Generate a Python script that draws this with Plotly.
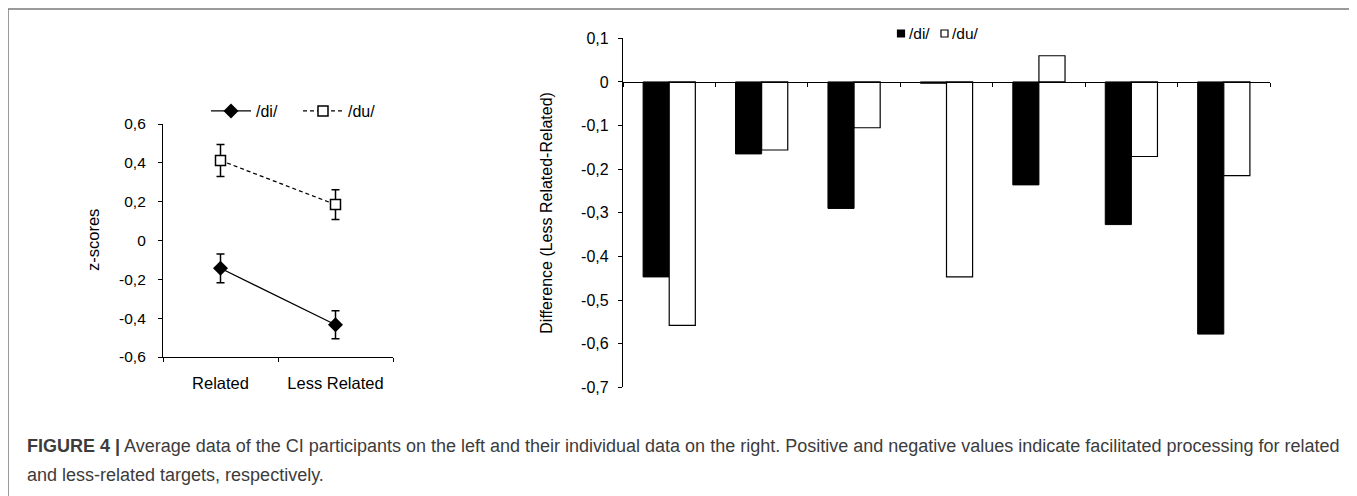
import plotly.graph_objects as go

# ---------------- data ----------------
conditions = ["Related", "Less Related"]
di_means = [-0.143, -0.434]
di_err = [0.074, 0.072]
du_means = [0.412, 0.185]
du_err = [0.082, 0.077]
left_ticks = [-0.6, -0.4, -0.2, 0, 0.2, 0.4, 0.6]
left_ticktext = ["-0,6", "-0,4", "-0,2", "0", "0,2", "0,4", "0,6"]

participants = ["P1", "P2", "P3", "P4", "P5", "P6", "P7"]
di_diff = [-0.447, -0.165, -0.290, -0.003, -0.236, -0.327, -0.578]
du_diff = [-0.558, -0.156, -0.105, -0.447, 0.060, -0.171, -0.215]
right_ticks = [-0.7, -0.6, -0.5, -0.4, -0.3, -0.2, -0.1, 0, 0.1]
right_ticktext = ["-0,7", "-0,6", "-0,5", "-0,4", "-0,3", "-0,2", "-0,1", "0", "0,1"]

caption_bold = "FIGURE 4 |"
caption_l1 = (" Average data of the CI participants on the left and their individual data on the right. "
              "Positive and negative values indicate facilitated processing for related")
caption_l2 = "and less-related targets, respectively."

W, H = 1357, 496
OFF = 8  # page body margin offset
FONT = "Liberation Sans, Arial, sans-serif"

def px_x(p):
    return (p - OFF) / W

def px_y(p):
    return 1 - (p - OFF) / H

fig = go.Figure()

# ---------------- left panel ----------------
fig.add_trace(go.Scatter(
    x=conditions, y=di_means, name="/di/", mode="lines+markers",
    line=dict(color="black", width=1.3),
    marker=dict(symbol="diamond", size=11.5, color="black"),
    error_y=dict(type="data", array=di_err, color="black", thickness=1.5, width=4),
    xaxis="x", yaxis="y", legend="legend",
))
fig.add_trace(go.Scatter(
    x=conditions, y=du_means, name="/du/", mode="lines+markers",
    line=dict(color="black", width=1.3, dash="4px,3px"),
    marker=dict(symbol="square", size=10, color="white", line=dict(color="black", width=1.5)),
    error_y=dict(type="data", array=du_err, color="black", thickness=1.5, width=4),
    xaxis="x", yaxis="y", legend="legend",
))

# ---------------- right panel ----------------
fig.add_trace(go.Bar(
    x=participants, y=di_diff, name="/di/",
    marker=dict(color="black", line=dict(color="black", width=1)),
    xaxis="x2", yaxis="y2", showlegend=False,
))
fig.add_trace(go.Bar(
    x=participants, y=du_diff, name="/du/",
    marker=dict(color="white", line=dict(color="black", width=1.2)),
    xaxis="x2", yaxis="y2", showlegend=False,
))

ydom2 = [px_y(387.3), px_y(38.3)]
zero_pos = ydom2[0] + (0 - (-0.7)) / 0.8 * (ydom2[1] - ydom2[0])

axis_common = dict(showgrid=False, zeroline=False, showline=True, linecolor="black", linewidth=1.2,
                   ticks="outside", ticklen=4, tickcolor="black", tickwidth=1.2)

fig.update_layout(
    width=W, height=H,
    margin=dict(l=0, r=0, t=0, b=0, autoexpand=False),
    paper_bgcolor="white", plot_bgcolor="rgba(0,0,0,0)",
    font=dict(family=FONT, size=16, color="black"),
    barmode="group", bargap=0.435, bargroupgap=0,
    xaxis=dict(domain=[px_x(163), px_x(393)], anchor="y", type="category", range=[-0.5, 1.5],
               tickson="boundaries", tickfont=dict(size=16.5), ticklabelstandoff=11, **axis_common),
    yaxis=dict(domain=[px_y(357), px_y(124)], anchor="x", range=[-0.6, 0.6],
               tickvals=left_ticks, ticktext=left_ticktext, tickfont=dict(size=15.5),
               ticklabelstandoff=9, **axis_common),
    xaxis2=dict(domain=[px_x(623), px_x(1270)], anchor="free", position=zero_pos, type="category",
                tickson="boundaries", showticklabels=False, **axis_common),
    yaxis2=dict(domain=ydom2, anchor="x2", range=[-0.7, 0.1],
                tickvals=right_ticks, ticktext=right_ticktext, tickfont=dict(size=16),
                ticklabelstandoff=6, **axis_common),
    legend=dict(orientation="h", x=px_x(206), y=px_y(111), xanchor="left", yanchor="middle",
                font=dict(size=16), bgcolor="rgba(0,0,0,0)", itemwidth=40, entrywidth=37,
                tracegroupgap=0),
)

# axis titles
fig.add_annotation(x=px_x(93), y=px_y(240), xref="paper", yref="paper", text="z-scores",
                   textangle=-90, showarrow=False, xanchor="center", yanchor="middle",
                   font=dict(size=16.5))
fig.add_annotation(x=px_x(547), y=px_y(212.7), xref="paper", yref="paper",
                   text="Difference (Less Related-Related)", textangle=-90, showarrow=False,
                   xanchor="center", yanchor="middle", font=dict(size=16))

# right legend (small square swatches + text)
for (x0, fill, label) in [(897.5, "black", "/di/"), (941, "white", "/du/")]:
    fig.add_shape(type="rect", xref="paper", yref="paper",
                  x0=px_x(x0), x1=px_x(x0 + 7), y0=px_y(37), y1=px_y(30),
                  fillcolor=fill, line=dict(color="black", width=1.2))
    fig.add_annotation(x=px_x(x0 + 9), y=px_y(34), xref="paper", yref="paper", text=label,
                       xanchor="left", yanchor="middle", showarrow=False, font=dict(size=15.5))

# frame
fig.add_shape(type="rect", xref="paper", yref="paper",
              x0=px_x(8), x1=px_x(1354), y0=-0.05, y1=px_y(9),
              line=dict(color="#7a7a7a", width=1.5), fillcolor="rgba(0,0,0,0)")

# caption
fig.add_annotation(x=px_x(25), y=px_y(446), xref="paper", yref="paper",
                   xanchor="left", yanchor="middle",
                   text=f"<b>{caption_bold}</b>{caption_l1}", showarrow=False,
                   font=dict(size=18, color="#3c3c3c"))
fig.add_annotation(x=px_x(25), y=px_y(475), xref="paper", yref="paper",
                   xanchor="left", yanchor="middle",
                   text=caption_l2, showarrow=False, font=dict(size=18, color="#3c3c3c"))

fig.write_html("out.html")
